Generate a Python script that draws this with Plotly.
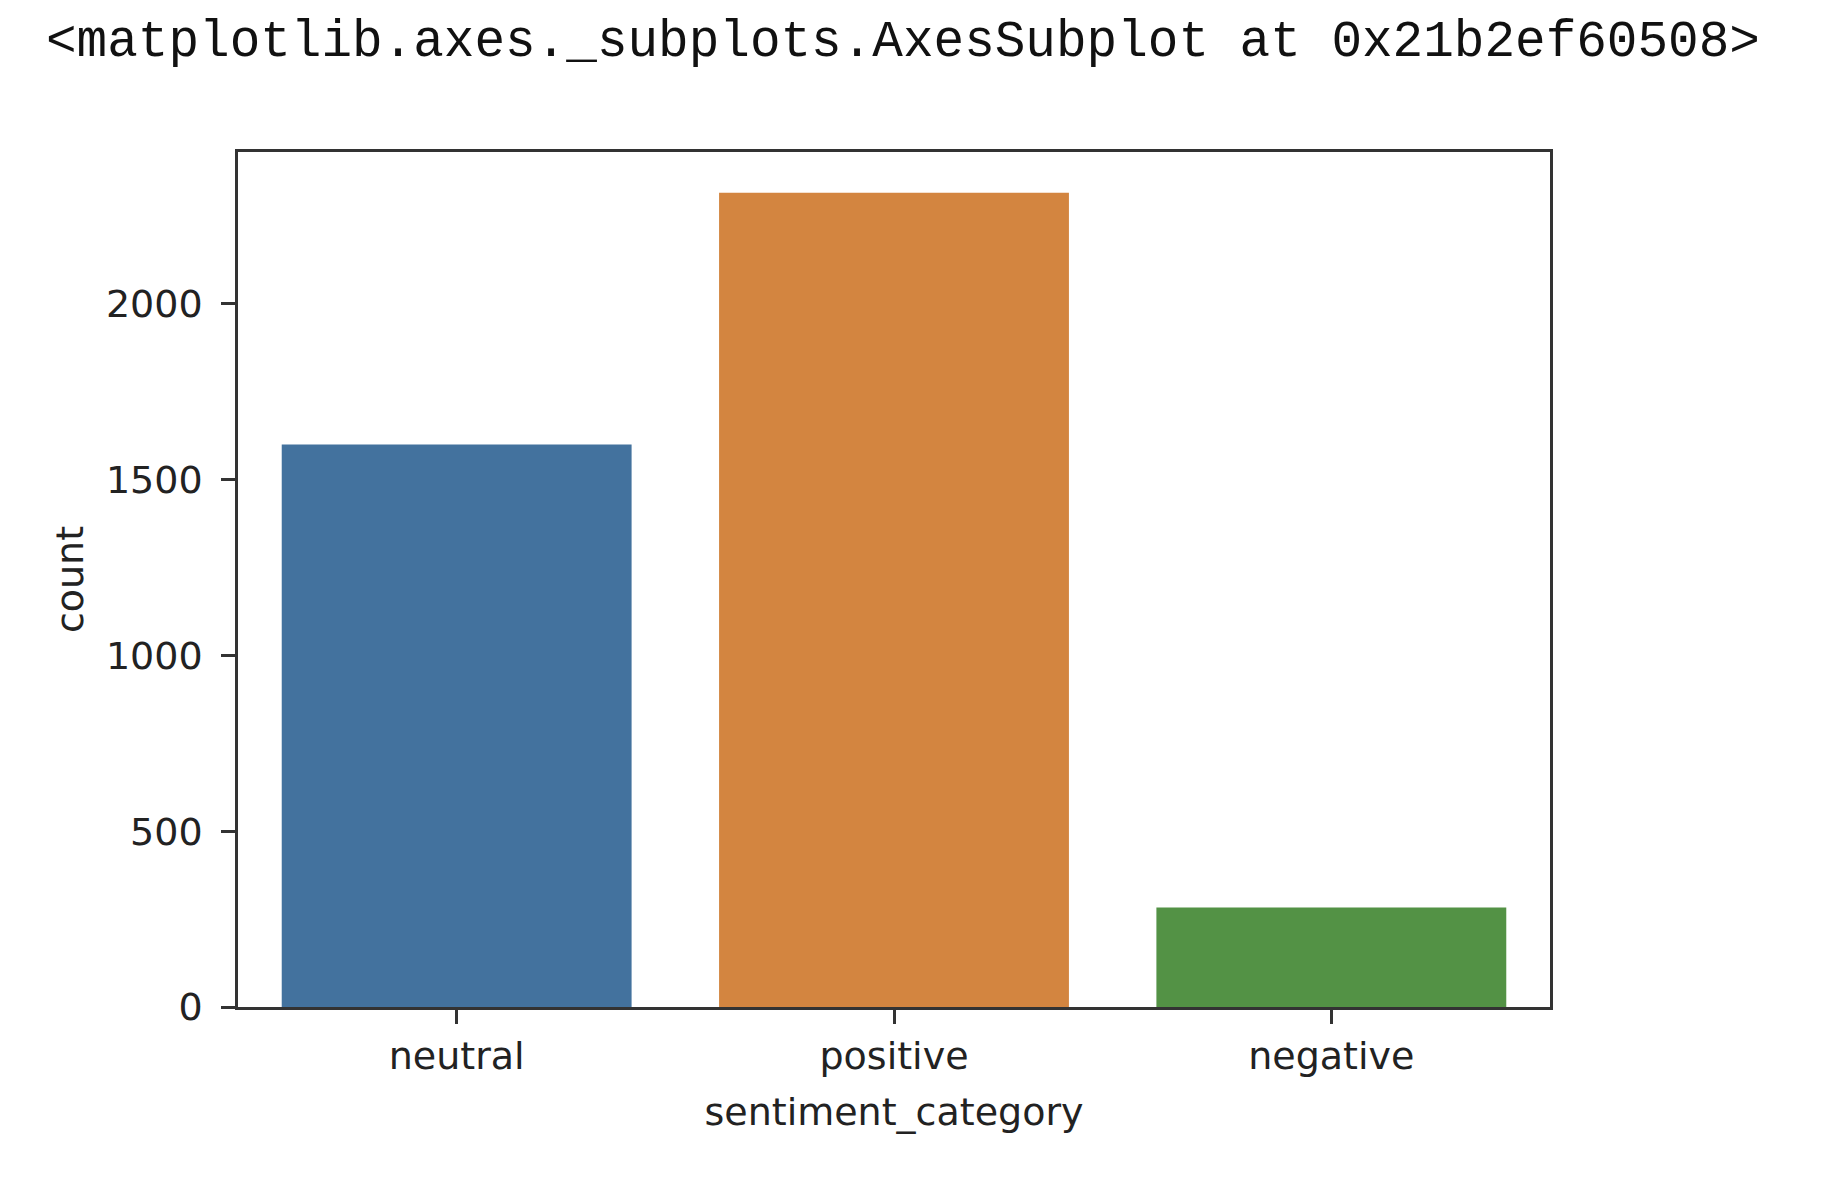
import plotly.graph_objects as go

categories = ["neutral", "positive", "negative"]
counts = [1600, 2316, 283]
colors = ["#43729E", "#D38540", "#539245"]
y_ticks = [0, 500, 1000, 1500, 2000]
header_text = "&lt;matplotlib.axes._subplots.AxesSubplot at 0x21b2ef60508&gt;"

# page body has an 8px default margin
OFF = 8
W, H = 1836 - OFF, 1204 - OFF
L, R, T, B = 238 - OFF, 1550 - OFF, 152 - OFF, 1007 - OFF

fig = go.Figure(go.Bar(
    x=categories, y=counts, marker_color=colors, marker_line_width=0, width=0.8,
))

axis_common = dict(
    showline=True, linecolor="#333333", linewidth=2.5, mirror=True,
    ticks="outside", ticklen=14, tickwidth=2.5, tickcolor="#333333",
    showgrid=False, zeroline=False,
    tickfont=dict(family="DejaVu Sans", size=38, color="#222222"),
    title_font=dict(family="DejaVu Sans", size=38, color="#222222"),
)

fig.update_layout(
    width=W, height=H,
    margin=dict(l=L, r=W - R, t=T, b=H - B, autoexpand=False),
    paper_bgcolor="white", plot_bgcolor="white",
    showlegend=False, bargap=0.2,
    xaxis=dict(range=[-0.5, 2.5], title=dict(text="sentiment_category", standoff=22), **axis_common),
    yaxis=dict(range=[0, 2432], tickvals=y_ticks, title=dict(text="count", standoff=11),
               ticklabelstandoff=11, **axis_common),
    annotations=[dict(
        text=header_text, xref="paper", yref="paper",
        x=(44 - OFF - L) / (R - L), y=(B - (43 - OFF)) / (B - T), xanchor="left", yanchor="middle",
        showarrow=False, font=dict(family="Liberation Mono", size=51, color="#111111"),
    )],
)

fig.write_html("out.html")
